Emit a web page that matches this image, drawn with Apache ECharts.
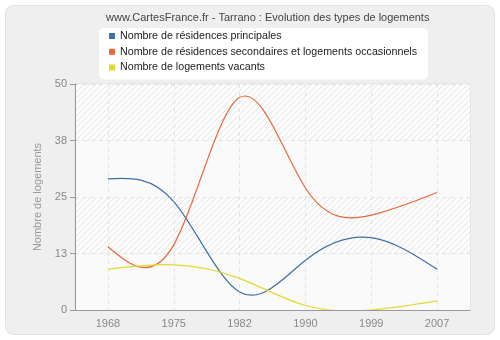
<!DOCTYPE html>
<html><head><meta charset="utf-8">
<script src="https://cdn.jsdelivr.net/npm/echarts@6/dist/echarts.min.js"></script>
<style>html,body{margin:0;padding:0;background:#fff}#c{width:500px;height:340px}</style>
</head><body><div id="c"></div>
<script>
const years = ['1968','1975','1982','1990','1999','2007'];
const principales = [29, 24, 4, 11, 16, 9];
const secondaires = [14, 14.4, 47, 27, 21, 26];
const vacants = [9, 10, 7, 1, 0, 2];
const yTicks = [0, 12.5, 25, 37.5, 50];
const seriesNames = ['Nombre de résidences principales', 'Nombre de résidences secondaires et logements occasionnels', 'Nombre de logements vacants'];
const colors = ['#3f6fa6', '#e8693a', '#e2d82f'];

function hatch(){
  const cv = document.createElement('canvas');
  cv.width = 6; cv.height = 6;
  const g = cv.getContext('2d');
  g.fillStyle = '#fcfcfc'; g.fillRect(0,0,6,6);
  g.strokeStyle = '#e4e4e4'; g.lineWidth = 1;
  g.beginPath(); g.moveTo(-1,7); g.lineTo(7,-1); g.stroke();
  g.beginPath(); g.moveTo(-1,1); g.lineTo(1,-1); g.stroke();
  g.beginPath(); g.moveTo(5,7); g.lineTo(7,5); g.stroke();
  return {image: cv, repeat: 'repeat'};
}

// natural cubic spline drawn through pixel positions given by the axes
function splineRenderer(values, color){
  return function(params, api){
    const i = params.dataIndex, n = values.length;
    if (i >= n - 1) return null;
    const p = values.map((v, k) => api.coord([k, v]));
    const y = p.map(q => q[1]);
    const M = new Array(n).fill(0);
    const m = n - 2;
    if (m > 0) {
      const a = [], b = [], c = [], d = [];
      for (let k = 1; k <= m; k++) {
        a.push(1); b.push(4); c.push(1);
        d.push(6 * (y[k + 1] - 2 * y[k] + y[k - 1]));
      }
      for (let k = 1; k < m; k++) {
        const w = a[k] / b[k - 1];
        b[k] -= w * c[k - 1];
        d[k] -= w * d[k - 1];
      }
      const sol = new Array(m);
      sol[m - 1] = d[m - 1] / b[m - 1];
      for (let k = m - 2; k >= 0; k--) sol[k] = (d[k] - c[k] * sol[k + 1]) / b[k];
      for (let k = 0; k < m; k++) M[k + 1] = sol[k];
    }
    const [x0, y0] = p[i], [x1, y1] = p[i + 1];
    const h = x1 - x0;
    const d0 = (y1 - y0) - (2 * M[i] + M[i + 1]) / 6;
    const d1 = (y1 - y0) + (M[i] + 2 * M[i + 1]) / 6;
    const path = 'M' + x0 + ' ' + y0 + ' C' + (x0 + h / 3) + ' ' + (y0 + d0 / 3) + ' ' +
      (x1 - h / 3) + ' ' + (y1 - d1 / 3) + ' ' + x1 + ' ' + y1;
    return {type: 'path', shape: {pathData: path}, style: {stroke: color, fill: null, lineWidth: 1.2}};
  };
}

const chart = echarts.init(document.getElementById('c'), null, {renderer:'canvas'});
const F = 'Liberation Sans';
chart.setOption({
  backgroundColor: '#ffffff',
  animation: false,
  graphic: [{type:'rect', z:-10, silent:true, shape:{x:5.5,y:5.5,width:489,height:329,r:8}, style:{fill:'#efefef', stroke:'#e2e2e2', lineWidth:1}}],
  title: {text:'www.CartesFrance.fr - Tarrano : Evolution des types de logements', left:106, top:11,
    textStyle:{fontFamily:F, fontSize:11, fontWeight:'normal', color:'#444', lineHeight:13}, padding:0},
  legend: {orient:'vertical', left:99, top:28, backgroundColor:'#fff', borderRadius:5, padding:[2,11,6,10],
    itemWidth:6, itemHeight:6, itemGap:3.75, icon:'rect', data: seriesNames,
    textStyle:{fontFamily:F, fontSize:10.7, color:'#222', lineHeight:12}},
  grid: {left:75, top:84, right:30, bottom:30, show:true, borderColor:'#dcdcdc', borderWidth:1, backgroundColor:'transparent'},
  xAxis: {type:'category', data: years, boundaryGap:true,
    axisLine:{lineStyle:{color:'#999'}}, axisTick:{alignWithLabel:true, length:5, lineStyle:{color:'#999'}},
    axisLabel:{fontFamily:F, fontSize:11, color:'#888', margin:8},
    splitLine:{show:true, alignWithLabel:true, lineStyle:{color:'#e3e3e3', type:[4,4]}}},
  yAxis: {type:'value', min:0, max:50, interval:12.5, name:'Nombre de logements', nameLocation:'middle', nameGap:29,
    nameTextStyle:{fontFamily:F, fontSize:11, color:'#999'},
    axisLine:{show:true, lineStyle:{color:'#999'}}, axisTick:{show:true, length:5, lineStyle:{color:'#999'}},
    axisLabel:{fontFamily:F, fontSize:11, color:'#888', margin:8, formatter:v=>String(Math.round(v))},
    splitLine:{show:true, lineStyle:{color:'#e3e3e3', type:[4,4]}},
    splitArea:{show:true, areaStyle:{color:['#fafafa', hatch()]}}},
  series: [principales, secondaires, vacants].map((d,i)=>({
    type:'custom', name:seriesNames[i], data:d.map((v,k)=>[k,v]), encode:{x:0, y:1},
    itemStyle:{color:colors[i]}, clip:true,
    renderItem: splineRenderer(d, colors[i])
  }))
});
</script></body></html>
